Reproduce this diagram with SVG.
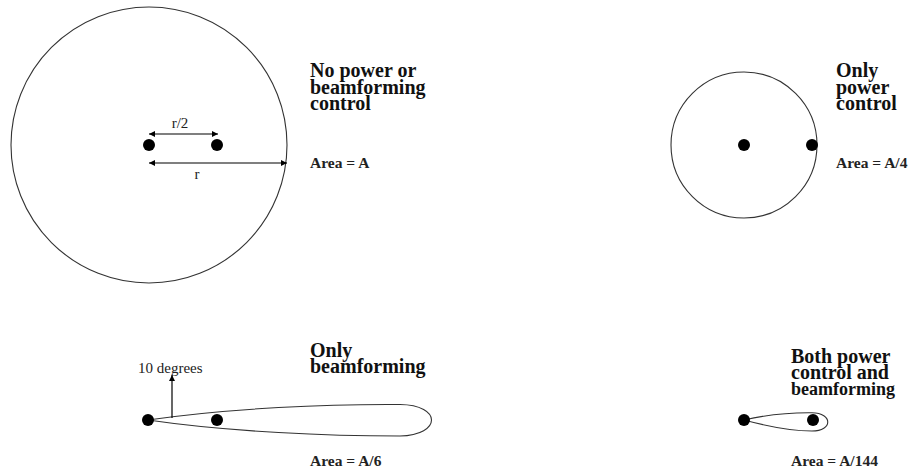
<svg xmlns="http://www.w3.org/2000/svg" width="912" height="473" viewBox="0 0 912 473">
<defs>
<style>
.shape{fill:none;stroke:#333;stroke-width:1.1}
.dot{fill:#000}
.dim{stroke:#000;stroke-width:1.2;fill:none}
.head{font-family:"Liberation Serif","Times New Roman",serif;font-weight:bold;font-size:20px;fill:#111}
.small{font-family:"Liberation Serif","Times New Roman",serif;font-weight:bold;font-size:18px;fill:#111}
.area{font-family:"Liberation Serif","Times New Roman",serif;font-weight:bold;font-size:15.5px;fill:#222}
.lab{font-family:"Liberation Serif","Times New Roman",serif;font-size:15px;fill:#222}
</style>
<marker id="ah" viewBox="0 0 10 10" refX="10" refY="5" markerWidth="9" markerHeight="6" markerUnits="userSpaceOnUse" orient="auto-start-reverse">
<path d="M0,0 L10,5 L0,10 Z" fill="#000"/>
</marker>
</defs>
<g id="no-control">
<circle class="shape" cx="149" cy="145" r="138"/>
<circle class="dot" cx="149" cy="145" r="6"/>
<circle class="dot" cx="217" cy="145" r="6"/>
<text class="head" x="310" y="77">No power or</text>
<text class="head" x="310" y="93.5">beamforming</text>
<text class="head" x="310" y="110">control</text>
<text class="area" x="310" y="168">Area = A</text>
<text class="lab" x="180" y="128" text-anchor="middle">r/2</text>
<text class="lab" x="197" y="179" text-anchor="middle">r</text>
</g>
<g id="power-control">
<circle class="shape" cx="744" cy="145" r="73"/>
<circle class="dot" cx="744" cy="145" r="6"/>
<circle class="dot" cx="812" cy="145" r="6"/>
<text class="head" x="836" y="77">Only</text>
<text class="head" x="836" y="93.5">power</text>
<text class="head" x="836" y="110">control</text>
<text class="area" x="836" y="168">Area = A/4</text>
</g>
<g id="beamforming">
<path class="shape" d="M148,420 C230,408 330,404 400,404.5 C442,405 442,435 400,436 C330,436 230,432 148,420 Z"/>
<circle class="dot" cx="148" cy="420" r="6"/>
<circle class="dot" cx="217" cy="420" r="6"/>
<text class="lab" x="138" y="373">10 degrees</text>
<text class="head" x="310" y="357">Only</text>
<text class="head" x="310" y="372.5">beamforming</text>
<text class="area" x="310" y="466">Area = A/6</text>
</g>
<g id="both">
<path class="shape" d="M744,420 C770,414 795,412.5 812,412.7 C833,413 833,431 812,431 C795,431 770,427 744,420 Z"/>
<circle class="dot" cx="744" cy="420" r="6"/>
<circle class="dot" cx="813" cy="420" r="6"/>
<text class="head" x="791" y="363">Both power</text>
<text class="head" x="791" y="378.5">control and</text>
<text class="small" x="791" y="395">beamforming</text>
<text class="area" x="791" y="466">Area = A/144</text>
</g>
<g id="connectors">
<line class="dim" x1="149" y1="134" x2="218" y2="134" marker-start="url(#ah)" marker-end="url(#ah)"/>
<line class="dim" x1="149" y1="163" x2="287" y2="163" marker-start="url(#ah)" marker-end="url(#ah)"/>
<line class="dim" x1="172" y1="418" x2="172" y2="375" marker-end="url(#ah)"/>
</g>
</svg>
